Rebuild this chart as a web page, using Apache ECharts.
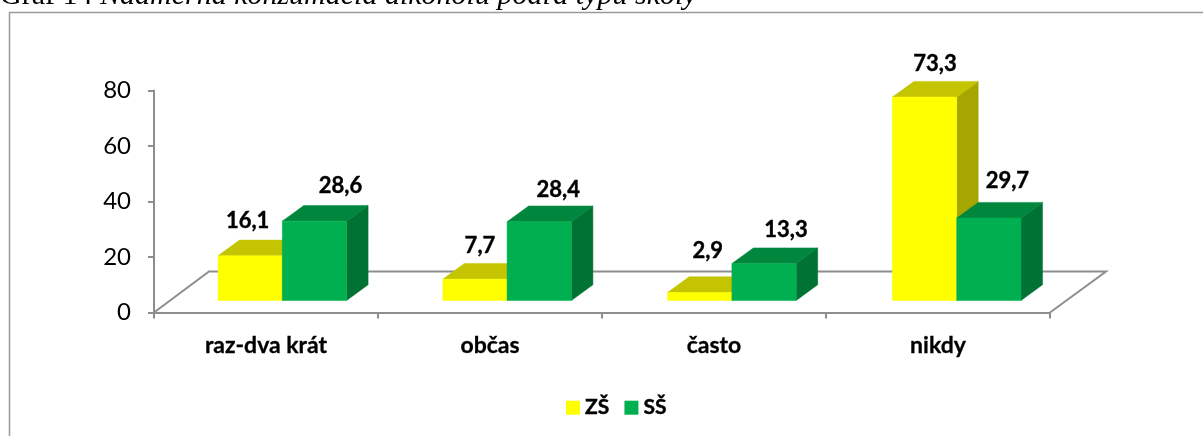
<!DOCTYPE html>
<html><head><meta charset="utf-8">
<style>html,body{margin:0;padding:0;background:#fff}#c{width:1203px;height:436px}</style>
<script src="https://cdn.jsdelivr.net/npm/echarts@6/dist/echarts.min.js"></script>
</head><body><div id="c"></div>
<script>
const categories = ['raz-dva krát', 'občas', 'často', 'nikdy'];
const zsValues = [16.1, 7.7, 2.9, 73.3];
const ssValues = [28.6, 28.4, 13.3, 29.7];
const yTicks = [0, 20, 40, 60, 80];

// hand-placed data label offsets in the reference: [right of bar centre, above bar back-top edge]
const zsLabelOffset = [[-2.5,19.5],[5,17.5],[8,25.5],[10.5,17.5]];
const ssLabelOffset = [[26,19.5],[19,16],[22,17.5],[18.5,21]];

const FONT = 'Lato';
const AXIS = '#8e8e8e';
const DX = 21.5, DY = -15.7, LIFT = -12, FLOOR_DX = 55, FLOOR_DY = -41;

function fmt(v){ return String(v).replace('.', ','); }

function barRenderer(side, front, top, right, offsets){
  return function(params, api){
    const cat = api.value(0), val = api.value(1);
    const band = api.size([1,0])[0];
    const w = band * 64.3 / 224;
    const base = api.coord([cat, 0]);
    const head = api.coord([cat, val]);
    const x0 = base[0] + 16.3 + cat * 0.8 + (side === 0 ? -w : 0);
    const x1 = x0 + w;
    const yb = base[1] + LIFT, yt = head[1] + LIFT;
    const off = offsets[params.dataIndex];
    const poly = (pts, color) => ({type:'polygon', shape:{points:pts}, style:{fill:color, stroke:color, lineWidth:0.5}});
    return {type:'group', children:[
      poly([[x1,yt],[x1+DX,yt+DY],[x1+DX,yb+DY],[x1,yb]], right),
      poly([[x0,yt],[x0+DX,yt+DY],[x1+DX,yt+DY],[x1,yt]], top),
      poly([[x0,yt],[x1,yt],[x1,yb],[x0,yb]], front),
      {type:'text', style:{text:fmt(val), x:(x0+x1)/2+off[0], y:yt+DY-off[1], align:'center', verticalAlign:'middle',
        font:'bold 22px '+FONT, fill:'#000', stroke:'#000', lineWidth:0.4}, z2:20}
    ]};
  };
}

function floorRenderer(params, api){
  const b = params.coordSys;
  const x0=b.x, x1=b.x+b.width, y=b.y+b.height;
  return {type:'polyline', shape:{points:[[x0,y],[x0+FLOOR_DX,y+FLOOR_DY],[x1+FLOOR_DX+1,y+FLOOR_DY],[x1,y]]},
    style:{fill:null, stroke:AXIS, lineWidth:2}};
}

const chart = echarts.init(document.getElementById('c'), null, {renderer:'canvas'});
chart.setOption({
  animation:false,
  backgroundColor:'#fff',
  graphic:[
    {type:'polyline', shape:{points:[[9.5,440],[9.5,12.5],[1203,12.5]]}, style:{fill:null, stroke:'#9a9a9a', lineWidth:1.5}, z:-1, silent:true}
  ],
  title:{
    text:'{a|Graf 14 }{b|Nadmerná konzumácia alkoholu podľa typu školy}',
    left:0, top:-19, padding:0,
    textStyle:{fontWeight:'normal', rich:{
      a:{fontFamily:'Liberation Serif', fontSize:30, fontWeight:'normal', color:'#000'},
      b:{fontFamily:'Liberation Serif', fontSize:30, fontWeight:'normal', fontStyle:'italic', color:'#000'}
    }}
  },
  legend:{
    left:566, top:397, padding:0, itemWidth:14, itemHeight:14, itemGap:15, icon:'rect',
    textStyle:{fontFamily:FONT, fontWeight:'bold', fontSize:21, color:'#000', textBorderColor:'#000', textBorderWidth:0.4},
    data:['ZŠ','SŠ']
  },
  grid:{left:154, right:153, top:90.5, bottom:123.5},
  xAxis:{type:'category', data:categories,
    axisLine:{lineStyle:{color:AXIS, width:2}},
    axisTick:{show:true, length:6, alignWithLabel:false, lineStyle:{color:AXIS, width:2}},
    axisLabel:{margin:22, fontFamily:FONT, fontWeight:'bold', fontSize:23, color:'#000', textBorderColor:'#000', textBorderWidth:0.3}},
  yAxis:{type:'value', min:0, max:80, interval:20,
    axisLine:{show:true, lineStyle:{color:AXIS, width:2}},
    axisTick:{show:true, length:6, lineStyle:{color:AXIS, width:2}},
    splitLine:{show:false},
    axisLabel:{margin:23, padding:[3,0,0,0], fontFamily:FONT, fontSize:24, color:'#000',
      formatter:(v)=> yTicks.includes(v) ? String(v) : ''}},
  series:[
    {type:'custom', name:'floor', renderItem:floorRenderer, data:[[0,0]], z:1, silent:true},
    {type:'custom', name:'ZŠ', itemStyle:{color:'#FFFF00'}, z:2,
      renderItem:barRenderer(0,'#FFFF00','#C4C400','#A6A600',zsLabelOffset),
      encode:{x:0,y:1}, data:zsValues.map((v,i)=>[i,v])},
    {type:'custom', name:'SŠ', itemStyle:{color:'#00B050'}, z:3,
      renderItem:barRenderer(1,'#00B050','#00873D','#007234',ssLabelOffset),
      encode:{x:0,y:1}, data:ssValues.map((v,i)=>[i,v])}
  ]
});
</script></body></html>
